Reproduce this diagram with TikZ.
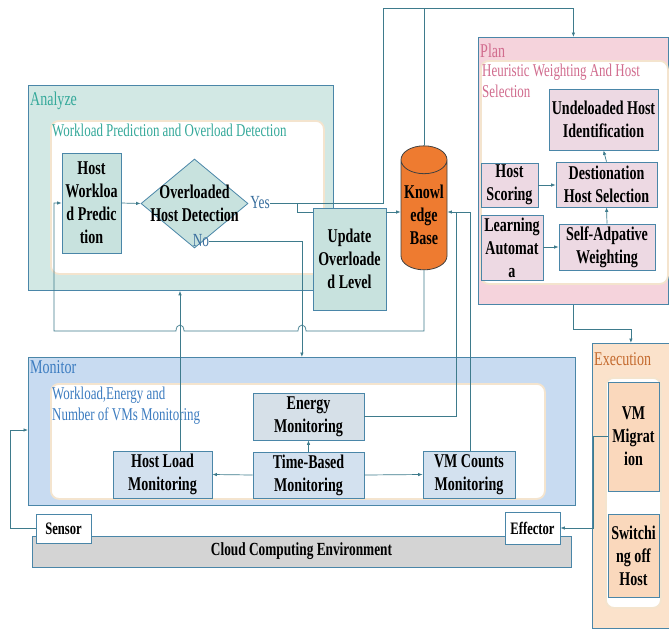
\documentclass[tikz,border=0pt]{standalone}
\usepackage{fontspec}
\setmainfont{Liberation Serif}[FakeStretch=0.72]
\usetikzlibrary{shapes.geometric,arrows.meta}

\definecolor{conncol}{HTML}{3E7B8C}
\definecolor{boxline}{HTML}{4A86A8}
\definecolor{innerline}{HTML}{F4E4CE}
\definecolor{anafill}{HTML}{D2E8E4}
\definecolor{anabox}{HTML}{C8E2DE}
\definecolor{analabel}{HTML}{35A99A}
\definecolor{kbfill}{HTML}{EE7B30}
\definecolor{planfill}{HTML}{F5D3DC}
\definecolor{planbox}{HTML}{EDD9E3}
\definecolor{planlabel}{HTML}{D16C8E}
\definecolor{monfill}{HTML}{C8DBF1}
\definecolor{monbox}{HTML}{D3E1EF}
\definecolor{energybox}{HTML}{D6E0E8}
\definecolor{monlabel}{HTML}{3C7CC0}
\definecolor{exfill}{HTML}{FBE2CB}
\definecolor{exbox}{HTML}{FAD8BC}
\definecolor{exlabel}{HTML}{C46A2E}
\definecolor{cloudfill}{HTML}{D4D4D4}
\definecolor{yncol}{HTML}{3A6F9E}

\tikzset{
  conn/.style={draw=conncol, line width=0.7pt},
  arr/.style={-{Latex[length=4.5pt,width=3.5pt]}},
  outer/.style={draw=boxline, line width=0.8pt, anchor=north west, inner sep=0pt},
  inner/.style={draw=innerline, fill=white, line width=1.8pt, rounded corners=8pt, anchor=north west, inner sep=0pt},
  box/.style={draw=boxline, line width=0.8pt, align=center, inner sep=0pt, font=\bfseries\fontsize{19.5}{23}\selectfont},
  title/.style={anchor=base west, inner sep=0pt, font=\fontsize{19.5}{21}\selectfont},
  sublabel/.style={anchor=north west, align=left, inner sep=0pt, font=\fontsize{18}{21}\selectfont},
  yn/.style={inner sep=0pt, text=yncol, font=\fontsize{18.5}{21}\selectfont}
}

\begin{document}
\begin{tikzpicture}[x=1pt,y=-1pt]
\useasboundingbox (0,0) rectangle (669,630);

% Analyze
\node[outer, fill=anafill, minimum width=305pt, minimum height=205pt] (analyze) at (28,85) {};
\node[title, text=analabel] (analyzet) at (30,105) {Analyze};
\node[inner, minimum width=273pt, minimum height=153pt] (anainner) at (50,120) {};
\node[sublabel, text=analabel] (anainnert) at (52,123.8) {Workload Prediction and Overload Detection};
\node[box, fill=anabox, minimum width=59pt, minimum height=100pt] (hwp) at (91.5,203) {Host\\Workloa\\d Predic\\tion};
\node[diamond, draw=boxline, line width=0.8pt, fill=anabox, minimum width=107pt, minimum height=89pt, inner sep=0pt] (ohd) at (194.5,203.5) {};
\node[box, draw=none] (ohdt) at (ohd) {Overloaded\\Host Detection};
\node[yn] (yes) at (260,203) {Yes};
\node[yn] (no) at (201,241) {No};
\node[box, fill=anabox, minimum width=73pt, minimum height=102pt] (upd) at (349.5,259) {Update\\Overloade\\d Level};

% Knowledge
\node[box, cylinder, shape border rotate=90, aspect=0.7, draw=black!75, fill=kbfill, minimum width=46pt, minimum height=124pt] (kb) at (424,215) {Knowl\\edge\\Base};

% Plan
\node[outer, fill=planfill, minimum width=190pt, minimum height=267pt] (plan) at (478,37) {};
\node[title, text=planlabel] (plant) at (480,57) {Plan};
\node[inner, minimum width=187pt, minimum height=223pt] (planinner) at (480,60) {};
\node[sublabel, text=planlabel] (planinnert) at (482,63.8) {Heuristic Weighting And Host\\Selection};
\node[box, fill=planbox, minimum width=109pt, minimum height=61pt] (uhi) at (603.5,119.5) {Undeloaded Host\\Identification};
\node[box, fill=planbox, minimum width=57pt, minimum height=44pt] (hs) at (509.5,185) {Host\\Scoring};
\node[box, fill=planbox, minimum width=101pt, minimum height=45pt] (dhs) at (606.5,184.5) {Destionation\\Host Selection};
\node[box, fill=planbox, minimum width=62pt, minimum height=65pt] (la) at (512,247.5) {Learning\\Automat\\a};
\node[box, fill=planbox, minimum width=96pt, minimum height=46pt] (saw) at (607,247) {Self-Adpative\\Weighting};

% Monitor
\node[outer, fill=monfill, minimum width=547pt, minimum height=148pt] (monitor) at (28,357) {};
\node[title, text=monlabel] (monitort) at (30,373) {Monitor};
\node[inner, minimum width=494pt, minimum height=115pt] (moninner) at (50,383) {};
\node[sublabel, text=monlabel] (moninnert) at (52,386.8) {Workload,Energy and\\Number of VMs Monitoring};
\node[box, fill=energybox, minimum width=111pt, minimum height=47pt] (em) at (308.5,416.5) {Energy\\Monitoring};
\node[box, fill=monbox, minimum width=111pt, minimum height=46pt] (tbm) at (308.5,475) {Time-Based\\Monitoring};
\node[box, fill=monbox, minimum width=99pt, minimum height=47pt] (hlm) at (162.5,474.5) {Host Load\\Monitoring};
\node[box, fill=monbox, minimum width=92pt, minimum height=47pt] (vmc) at (469,474.5) {VM Counts\\Monitoring};

% Execution
\node[outer, fill=exfill, minimum width=77pt, minimum height=285pt] (execution) at (592,343) {};
\node[title, text=exlabel] (executiont) at (594,365) {Execution};
\node[inner, minimum width=55pt, minimum height=230pt] (exinner) at (605,377) {};
\node[box, fill=exbox, minimum width=51pt, minimum height=109pt] (vmm) at (633.5,436.5) {VM\\Migrat\\ion};
\node[box, fill=exbox, minimum width=51pt, minimum height=83pt] (soh) at (633.5,555.5) {Switchi\\ng off\\Host};

% Environment
\node[box, fill=cloudfill, minimum width=539pt, minimum height=31pt, font=\bfseries\fontsize{18.5}{21}\selectfont] (cloud) at (301.5,551.5) {Cloud Computing Environment};
\node[box, fill=white, minimum width=55pt, minimum height=29pt, font=\bfseries\fontsize{17.5}{20}\selectfont] (sensor) at (63.5,528.5) {Sensor};
\node[box, fill=white, minimum width=55pt, minimum height=32pt, font=\bfseries\fontsize{17.5}{20}\selectfont] (effector) at (532.5,528) {Effector};

% connectors
\coordinate (fork) at (297,203);
\draw[conn, arr] (hwp.east) -- (ohd.west);
\draw[conn, arr] (yes.east) -| (383,8) -| (plan.north);
\draw[conn] (fork) |- (upd.west |- 0,212);
\draw[conn, arr] (upd.east |- 0,212) -- (kb.west |- 0,212);
\draw[conn] (kb.north) -- (kb.north |- 0,8);
\draw[conn, arr] (kb.south) |- (306,331) .. controls (306,323) and (298,323) .. (298,331) -- (184,331) .. controls (184,323) and (176,323) .. (176,331) -- (54,331) |- (hwp.west);
\draw[conn, arr] (no.east) -| (monitor.north);
\draw[conn, arr] (hlm.north -| 180,0) -- (analyze.south -| 180,0);
\draw[conn, arr] (tbm.west) -- (hlm.east);
\draw[conn, arr] (tbm.north) -- (em.south);
\draw[conn, arr] (tbm.east) -- (vmc.west);
\draw[conn] (em.east) -| (456,212);
\draw[conn, arr] (vmc.north -| 470,0) |- (kb.east |- 0,212);
\draw[conn, arr] (hs.east) -- (dhs.west |- hs.east);
\draw[conn, arr] (la.east |- saw.west) -- (saw.west);
\draw[conn, arr] (saw.north) -- (dhs.south);
\draw[conn, arr] (dhs.north) -- (uhi.south);
\draw[conn, arr] (plan.south) -- ++(0,25) -| (execution.north);
\draw[conn, arr] (vmm.west) -| (593,528) -- (effector.east);
\draw[conn, arr] (sensor.west) -| (10,430) -- (monitor.west |- 0,430);
\end{tikzpicture}
\end{document}
